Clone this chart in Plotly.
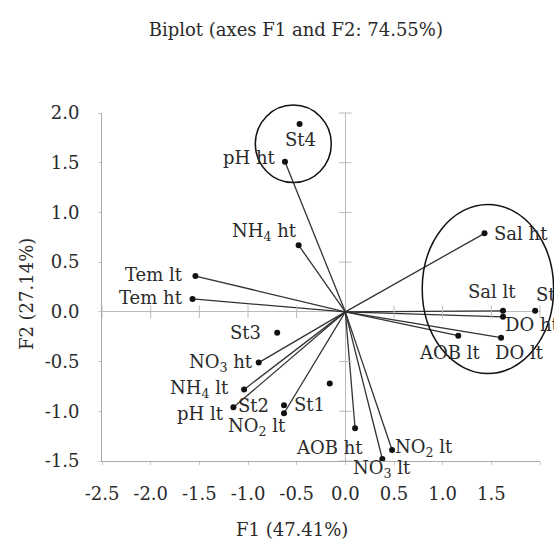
import plotly.graph_objects as go

# ---------------- data ----------------
var_names = ["pH ht", "NH<sub>4</sub> ht", "Tem lt", "Tem ht", "Sal ht", "Sal lt",
             "DO ht", "AOB lt", "DO lt", "NO<sub>3</sub> ht", "NH<sub>4</sub> lt",
             "pH lt", "NO<sub>2</sub> lt", "AOB ht", "NO<sub>2</sub> lt ", "NO<sub>3</sub> lt"]
var_f1 = [-0.62, -0.48, -1.54, -1.57, 1.43, 1.62, 1.62, 1.16, 1.60, -0.89, -1.04,
          -1.15, -0.63, 0.10, 0.48, 0.38]
var_f2 = [1.51, 0.67, 0.36, 0.13, 0.79, 0.01, -0.05, -0.24, -0.26, -0.51, -0.78,
          -0.96, -1.02, -1.17, -1.39, -1.48]

obs_names = ["St1", "St2", "St3", "St4", "St5"]
obs_f1 = [-0.16, -0.63, -0.70, -0.47, 1.95]
obs_f2 = [-0.72, -0.94, -0.21, 1.89, 0.01]

x_ticks = [-2.5, -2.0, -1.5, -1.0, -0.5, 0.0, 0.5, 1.0, 1.5, 2.0]
x_tick_text = ["-2.5", "-2.0", "-1.5", "-1.0", "-0.5", "0.0", "0.5", "1.0", "1.5", "2.0"]
y_ticks = [-1.5, -1.0, -0.5, 0.0, 0.5, 1.0, 1.5, 2.0]
y_tick_text = ["-1.5", "-1.0", "-0.5", "0.0", "0.5", "1.0", "1.5", "2.0"]

title_text = "Biplot (axes F1 and F2: 74.55%)"
x_title = "F1 (47.41%)"
y_title = "F2 (27.14%)"

# ellipses (data coordinates: x0, x1, y0, y1)
ellipse_st4 = (-0.925, -0.144, 1.30, 2.08)
ellipse_right = (0.79, 2.14, -0.62, 1.08)

# ---------------- styling ----------------
X_RANGE = [-2.5, 2.0]
Y_RANGE = [-1.5, 2.0]
FONT = "DejaVu Serif"
FS = 18
TXT = "#2a2a2a"
AXC = "#aaaaaa"

# label offsets (pixels, screen: dx right, dy down)
var_offsets = [(-35, -4), (-34, -13), (-41, -2), (-42, -1), (36, 0), (-11, -19),
               (29, 8), (-9, 17), (18, 15), (-38, 0), (-45, 0), (-33, 6),
               (-27, 14), (-26, 19), (32, -2), (0, 10)]
obs_offsets = [(-20, 21), (-31, 0), (-32, 0), (1, 16), (16, -16)]

fig = go.Figure()

# vectors from origin
lx, ly = [], []
for a, b in zip(var_f1, var_f2):
    lx += [0, a, None]
    ly += [0, b, None]
fig.add_trace(go.Scatter(x=lx, y=ly, mode="lines",
                         line=dict(color="#333333", width=1.3),
                         hoverinfo="skip", showlegend=False))

# tick marks on the zero lines
fig.add_trace(go.Scatter(x=[v for v in x_ticks if v != 0], y=[0] * (len(x_ticks) - 1),
                         mode="markers",
                         marker=dict(symbol="line-ns", size=9,
                                     line=dict(color="#bbbbbb", width=1)),
                         hoverinfo="skip", showlegend=False, cliponaxis=False))
fig.add_trace(go.Scatter(x=[0] * (len(y_ticks) - 1), y=[v for v in y_ticks if v != 0],
                         mode="markers",
                         marker=dict(symbol="line-ew", size=9,
                                     line=dict(color="#bbbbbb", width=1)),
                         hoverinfo="skip", showlegend=False, cliponaxis=False))

# variable points
fig.add_trace(go.Scatter(x=var_f1, y=var_f2, mode="markers",
                         marker=dict(color="#111111", size=6),
                         text=var_names, hoverinfo="text",
                         showlegend=False, cliponaxis=False))
# observation points
fig.add_trace(go.Scatter(x=obs_f1, y=obs_f2, mode="markers",
                         marker=dict(color="#111111", size=6),
                         text=obs_names, hoverinfo="text",
                         showlegend=False, cliponaxis=False))

annotations = []
for name, a, b, (dx, dy) in zip(var_names + obs_names, var_f1 + obs_f1,
                                var_f2 + obs_f2, var_offsets + obs_offsets):
    annotations.append(dict(x=a, y=b, xref="x", yref="y", text=name.strip(),
                            showarrow=False, xanchor="center", yanchor="middle",
                            xshift=dx, yshift=-dy,
                            font=dict(family=FONT, size=FS, color=TXT)))

# axis titles
annotations.append(dict(x=0.434, y=-0.198, xref="paper", yref="paper", text=x_title,
                        showarrow=False, xanchor="center", yanchor="middle",
                        font=dict(family=FONT, size=FS, color=TXT)))
annotations.append(dict(x=-0.171, y=0.48, xref="paper", yref="paper", text=y_title,
                        showarrow=False, xanchor="center", yanchor="middle",
                        textangle=-90,
                        font=dict(family=FONT, size=FS, color=TXT)))


def to_paper(e):
    x0, x1, y0, y1 = e
    sx = X_RANGE[1] - X_RANGE[0]
    sy = Y_RANGE[1] - Y_RANGE[0]
    return dict(x0=(x0 - X_RANGE[0]) / sx, x1=(x1 - X_RANGE[0]) / sx,
                y0=(y0 - Y_RANGE[0]) / sy, y1=(y1 - Y_RANGE[0]) / sy)


shapes = []
for e in (ellipse_st4, ellipse_right):
    shapes.append(dict(type="circle", xref="paper", yref="paper",
                       line=dict(color="#111111", width=1.5), **to_paper(e)))

axis_common = dict(showline=True, linecolor=AXC, linewidth=1,
                   zeroline=True, zerolinecolor="#bbbbbb", zerolinewidth=1,
                   showgrid=False, ticks="outside", ticklen=3, tickcolor="#cccccc",
                   tickfont=dict(family=FONT, size=FS, color=TXT))

fig.update_layout(
    width=554, height=541,
    margin=dict(l=102, r=14, t=113, b=80),
    paper_bgcolor="white", plot_bgcolor="white",
    title=dict(text=title_text, x=0.534, xanchor="center", xref="container",
               y=0.945, yanchor="middle", yref="container",
               font=dict(family=FONT, size=FS, color=TXT)),
    xaxis=dict(range=X_RANGE, tickvals=x_ticks, ticktext=x_tick_text,
               ticklabelstandoff=13, **axis_common),
    yaxis=dict(range=Y_RANGE, tickvals=y_ticks, ticktext=y_tick_text,
               ticklabelstandoff=15, **axis_common),
    annotations=annotations,
    shapes=shapes,
    showlegend=False,
)

fig.write_html("out.html")
